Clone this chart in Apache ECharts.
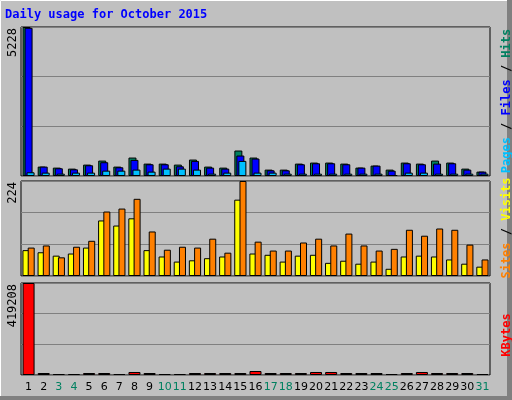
<!DOCTYPE html>
<html>
<head>
<meta charset="utf-8">
<script src="https://cdn.jsdelivr.net/npm/echarts@6/dist/echarts.min.js"></script>
<style>
    body { margin: 0; background: #c0c0c0; }
    #chart { width: 512px; height: 400px; }
</style>
</head>
<body>
<div id="chart"></div>
<script>
const days = ["1","2","3","4","5","6","7","8","9","10","11","12","13","14","15","16","17","18","19","20","21","22","23","24","25","26","27","28","29","30","31"];
const weekend = ["3","4","10","11","17","18","24","25","31"];
const hits = [5228,330,294,259,400,541,330,647,435,435,400,577,330,294,894,647,224,224,435,471,471,435,294,365,224,471,435,541,471,259,153];
const files = [5200,330,271,235,377,483,306,565,412,412,341,530,294,259,718,612,200,200,412,447,447,412,294,365,188,447,412,435,447,224,153];
const pages = [130,118,82,118,118,188,188,224,153,259,259,224,82,118,530,118,118,82,82,82,82,82,82,82,35,118,118,82,82,82,82];
const visits = [67,72,44,69,83,152,159,182,105,62,69,67,88,55,224,81,60,60,79,88,72,100,72,60,64,109,95,112,109,74,39];
const sites = [61,56,48,53,67,131,119,136,61,46,34,37,42,46,180,53,50,34,48,50,31,36,29,34,17,46,48,46,39,29,22];
const kbytes = [419208,9100,4500,4500,9100,9100,4500,13700,9100,4500,4500,9100,9100,9100,9100,18200,9100,9100,9100,13700,13700,9100,9100,9100,4500,9100,13700,9100,9100,9100,4500];

const font = "DejaVu Sans Mono";
const grids = [
    { left: 21, right: 22, top: 27, height: 149 },
    { left: 21, right: 22, top: 181, height: 95 },
    { left: 21, right: 22, top: 283, height: 92 }
].map(g => Object.assign(g, { show: true, backgroundColor: "#c0c0c0", borderColor: "#000", borderWidth: 1 }));

function xAxis(i, labels) {
    return {
        type: "category", gridIndex: i, data: days,
        axisLine: { show: false }, axisTick: { show: false },
        axisLabel: labels ? {
            show: true, fontSize: 11, fontFamily: "DejaVu Sans", margin: 7, interval: 0,
            color: v => weekend.includes(v) ? "#008060" : "#000"
        } : { show: false }
    };
}
function yAxis(i, max) {
    return {
        type: "value", gridIndex: i, min: 0, max: max, interval: max / 3,
        axisLabel: { show: false }, axisLine: { show: false }, axisTick: { show: false },
        splitLine: { lineStyle: { color: "#808080", width: 1 } }
    };
}
function bar(name, data, i, color, width, gap) {
    return {
        name: name, type: "bar", xAxisIndex: i, yAxisIndex: i, data: data,
        barWidth: width, barGap: gap, animation: false,
        itemStyle: { color: color, borderColor: "#000", borderWidth: 1 }
    };
}
function sideLabel(y, parts) {
    return {
        type: "text", x: 507, y: y, rotation: Math.PI / 2,
        style: {
            text: parts.map(p => `{${p[1]}|${p[0]}}`).join(""),
            font: `bold 12px ${font}`, align: "center", verticalAlign: "middle",
            rich: Object.fromEntries(parts.map(p => [p[1], { fill: p[2], font: `bold 12px ${font}` }]))
        }
    };
}
function maxLabel(y, text) {
    return {
        type: "text", x: 13, y: y, rotation: Math.PI / 2,
        style: { text: text, font: `12px ${font}`, fill: "#000", align: "right", verticalAlign: "middle" }
    };
}

const chart = echarts.init(document.querySelector("#chart"));
chart.setOption({
    animation: false,
    grid: grids,
    xAxis: [xAxis(0, false), xAxis(1, false), xAxis(2, true)],
    yAxis: [yAxis(0, 5228), yAxis(1, 224), yAxis(2, 419208)],
    series: [
        bar("Hits", hits, 0, "#008060", 8, "-75%"),
        bar("Files", files, 0, "#0000ff", 8, "-75%"),
        bar("Pages", pages, 0, "#00c0ff", 8, "-75%"),
        bar("Sites", sites, 1, "#ffff00", 7, "-25%"),
        bar("Visits", visits, 1, "#ff8000", 7, "-25%"),
        bar("KBytes", kbytes, 2, "#ff0000", 12, "0%")
    ],
    graphic: [
        { type: "rect", shape: { x: 0.5, y: 0.5, width: 510, height: 398 }, style: { fill: null, stroke: "#fff", lineWidth: 1 } },
        { type: "rect", shape: { x: 507, y: 0, width: 5, height: 400 }, style: { fill: "#808080" } },
        { type: "rect", shape: { x: 0, y: 396, width: 512, height: 4 }, style: { fill: "#808080" } },
        { type: "text", x: 5, y: 9, style: { text: "Daily usage for October 2015", font: `bold 12px ${font}`, fill: "#0000ff" } },
        maxLabel(28, "5228"),
        maxLabel(182, "224"),
        maxLabel(284, "419208"),
        sideLabel(101, [["Pages", "p", "#00c0ff"], [" / ", "s", "#000"], ["Files", "f", "#0000ff"], [" / ", "t", "#000"], ["Hits", "h", "#008060"]]),
        sideLabel(228, [["Sites", "s", "#ff8000"], [" / ", "t", "#000"], ["Visits", "v", "#ffff00"]]),
        sideLabel(335, [["KBytes", "k", "#ff0000"]])
    ]
});
</script>
</body>
</html>
